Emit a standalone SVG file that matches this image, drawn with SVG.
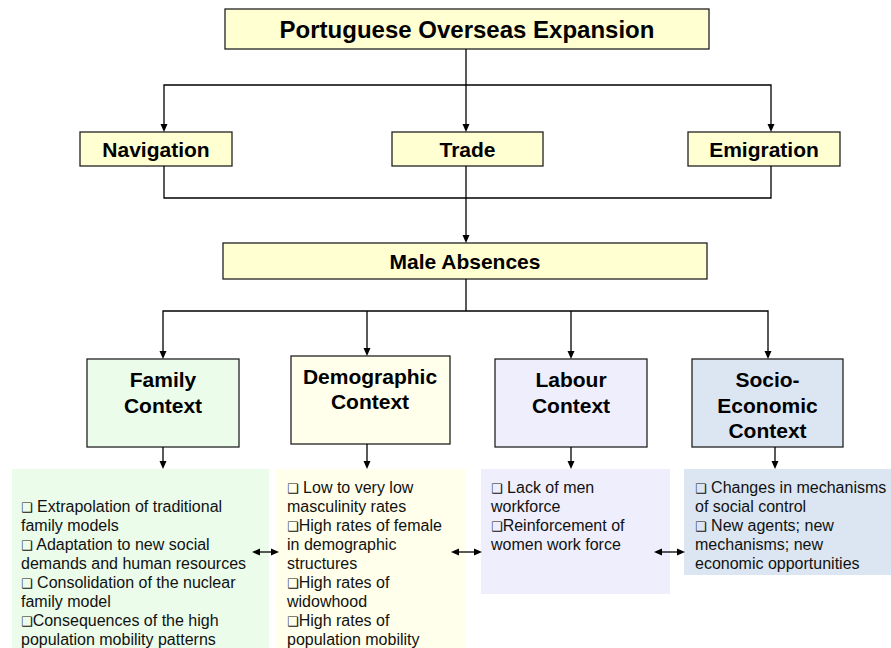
<svg xmlns="http://www.w3.org/2000/svg" width="891" height="648" viewBox="0 0 891 648">
<style>
.box{stroke:#222;stroke-width:1.3}
.y{fill:#FFFFD2}
.t{font-family:"Liberation Sans",Arial,sans-serif;font-weight:bold;fill:#000;text-anchor:middle}
.d{font-family:"Liberation Sans",Arial,"DejaVu Sans",sans-serif;font-size:16px;fill:#111}
.b{font-family:"DejaVu Sans",sans-serif;font-size:13px}
.c{stroke:#000;stroke-width:1.3;fill:none}
.ah{fill:#000}
</style>
<defs>
<path id="dn" d="M-3.5,-8 L3.5,-8 L0,0 z"/>
<path id="rt" d="M-8,-3.5 L-8,3.5 L0,0 z"/>
<path id="lt" d="M8,-3.5 L8,3.5 L0,0 z"/>
</defs>
<rect width="891" height="648" fill="#fff"/>
<g id="expansion">
<rect class="box y" x="225" y="9" width="484" height="40"/>
<text class="t" x="467" y="38" font-size="24">Portuguese Overseas Expansion</text>
</g>
<g id="navigation">
<rect class="box y" x="80" y="132" width="152" height="34"/>
<text class="t" x="156" y="157" font-size="21">Navigation</text>
</g>
<g id="trade">
<rect class="box y" x="392" y="132" width="151" height="34"/>
<text class="t" x="467.5" y="157" font-size="21">Trade</text>
</g>
<g id="emigration">
<rect class="box y" x="688" y="132" width="152" height="34"/>
<text class="t" x="764" y="157" font-size="21">Emigration</text>
</g>
<g id="male-absences">
<rect class="box y" x="223" y="243" width="484" height="36"/>
<text class="t" x="465" y="268.5" font-size="21">Male Absences</text>
</g>
<g id="family-context">
<rect class="box" fill="#EBFCEB" x="87" y="359" width="152" height="88"/>
<text class="t" x="163" y="386.5" font-size="21">Family</text>
<text class="t" x="163" y="412.5" font-size="21">Context</text>
</g>
<g id="demographic-context">
<rect class="box" fill="#FFFFEB" x="291" y="356" width="159" height="88"/>
<text class="t" x="370" y="383.5" font-size="21">Demographic</text>
<text class="t" x="370" y="408.5" font-size="21">Context</text>
</g>
<g id="labour-context">
<rect class="box" fill="#EEEEFC" x="495" y="359" width="152" height="88"/>
<text class="t" x="571" y="386.5" font-size="21">Labour</text>
<text class="t" x="571" y="412.5" font-size="21">Context</text>
</g>
<g id="socio-economic-context">
<rect class="box" fill="#DCE6F2" x="692" y="359" width="151" height="88"/>
<text class="t" x="767.5" y="386.5" font-size="21">Socio-</text>
<text class="t" x="767.5" y="412.5" font-size="21">Economic</text>
<text class="t" x="767.5" y="437.5" font-size="21">Context</text>
</g>
<g id="family-details">
<rect fill="#EBFCEB" x="12" y="469" width="257" height="179"/>
<text class="d" x="21" y="511.5"><tspan class="b">❑</tspan> Extrapolation of traditional</text>
<text class="d" x="21" y="530.5">family models</text>
<text class="d" x="21" y="549.5"><tspan class="b">❑</tspan> Adaptation to new social</text>
<text class="d" x="21" y="568.5">demands and human resources</text>
<text class="d" x="21" y="587.5"><tspan class="b">❑</tspan> Consolidation of the nuclear</text>
<text class="d" x="21" y="606.5">family model</text>
<text class="d" x="21" y="625.5"><tspan class="b">❑</tspan>Consequences of the high</text>
<text class="d" x="21" y="644.5">population mobility patterns</text>
</g>
<g id="demographic-details">
<rect fill="#FFFFEB" x="276" y="469" width="189" height="179"/>
<text class="d" x="287" y="492.5"><tspan class="b">❑</tspan> Low to very low</text>
<text class="d" x="287" y="511.5">masculinity rates</text>
<text class="d" x="287" y="530.5"><tspan class="b">❑</tspan>High rates of female</text>
<text class="d" x="287" y="549.5">in demographic</text>
<text class="d" x="287" y="568.5">structures</text>
<text class="d" x="287" y="587.5"><tspan class="b">❑</tspan>High rates of</text>
<text class="d" x="287" y="606.5">widowhood</text>
<text class="d" x="287" y="625.5"><tspan class="b">❑</tspan>High rates of</text>
<text class="d" x="287" y="644.5">population mobility</text>
</g>
<g id="labour-details">
<rect fill="#EEEEFC" x="481" y="469" width="189" height="125"/>
<text class="d" x="491" y="492.5"><tspan class="b">❑</tspan> Lack of men</text>
<text class="d" x="491" y="511.5">workforce</text>
<text class="d" x="491" y="530.5"><tspan class="b">❑</tspan>Reinforcement of</text>
<text class="d" x="491" y="549.5">women work force</text>
</g>
<g id="socio-details">
<rect fill="#DCE6F2" x="684" y="469" width="207" height="106"/>
<text class="d" x="695" y="492.5"><tspan class="b">❑</tspan> Changes in mechanisms</text>
<text class="d" x="695" y="511.5">of social control</text>
<text class="d" x="695" y="530.5"><tspan class="b">❑</tspan> New agents; new</text>
<text class="d" x="695" y="549.5">mechanisms; new</text>
<text class="d" x="695" y="568.5">economic opportunities</text>
</g>
<g id="connectors">
<path class="c" d="M466,49 V126"/>
<path class="c" d="M164,126 V85 H771 V126"/>
<path class="c" d="M164,166 V198 H771 V166"/>
<path class="c" d="M466,166 V237"/>
<path class="c" d="M466,279 V311"/>
<path class="c" d="M163,353 V311 H768 V353"/>
<path class="c" d="M367,311 V350"/>
<path class="c" d="M571,311 V353"/>
<path class="c" d="M163,447 V463"/>
<path class="c" d="M367,444 V463"/>
<path class="c" d="M571,447 V463"/>
<path class="c" d="M775,447 V463"/>
<path class="c" d="M259,552 H272"/>
<path class="c" d="M458,552 H475"/>
<path class="c" d="M661,552 H678"/>
<g class="ah">
<use href="#dn" x="466" y="132"/>
<use href="#dn" x="164" y="132"/>
<use href="#dn" x="771" y="132"/>
<use href="#dn" x="466" y="243"/>
<use href="#dn" x="163" y="359"/>
<use href="#dn" x="367" y="356"/>
<use href="#dn" x="571" y="359"/>
<use href="#dn" x="768" y="359"/>
<use href="#dn" x="163" y="469"/>
<use href="#dn" x="367" y="469"/>
<use href="#dn" x="571" y="469"/>
<use href="#dn" x="775" y="469"/>
<use href="#lt" x="252" y="552"/>
<use href="#rt" x="279" y="552"/>
<use href="#lt" x="451" y="552"/>
<use href="#rt" x="482" y="552"/>
<use href="#lt" x="654" y="552"/>
<use href="#rt" x="685" y="552"/>
</g>
</g>
</svg>
